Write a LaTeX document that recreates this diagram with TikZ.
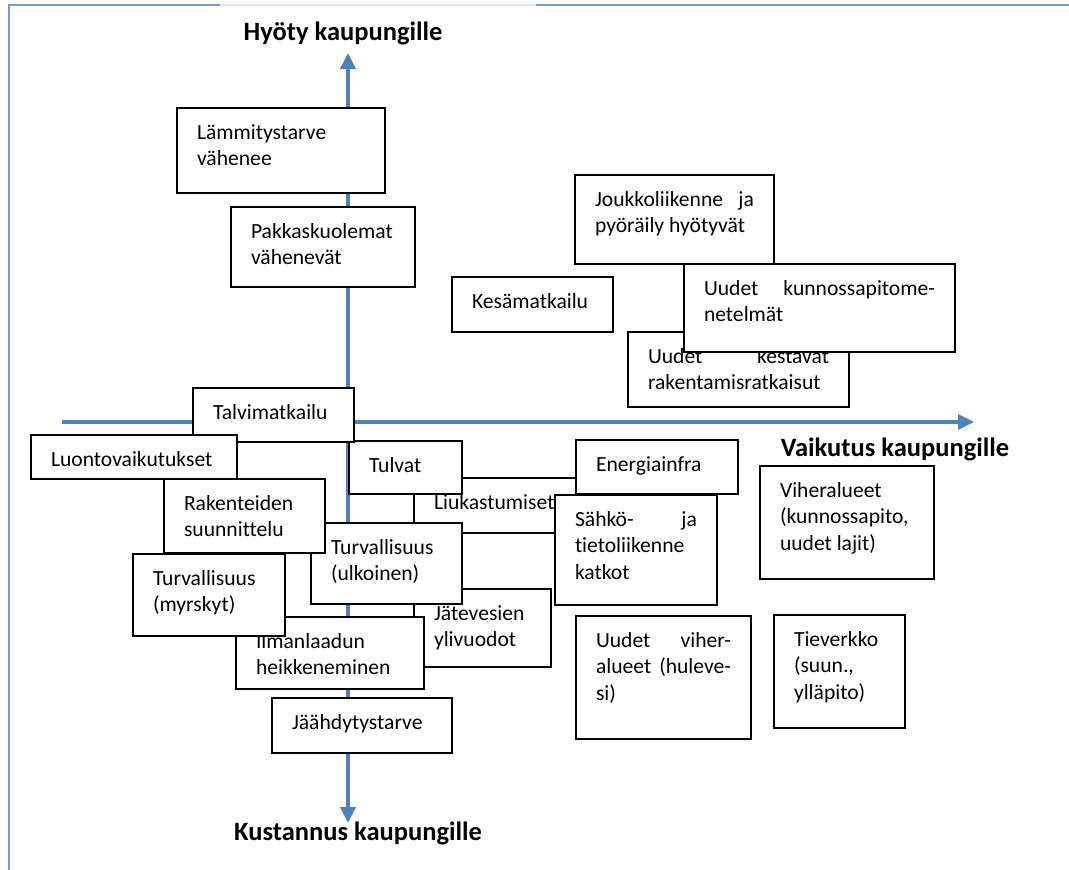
\documentclass[tikz,border=0pt]{standalone}
\usepackage{fontspec}
\setmainfont{Carlito}[Ligatures=NoCommon]
\usetikzlibrary{arrows.meta}
\definecolor{axisblue}{RGB}{79,129,189}
\definecolor{framedark}{RGB}{120,156,210}
\definecolor{framelight}{RGB}{221,231,243}
\newcommand\bodyfont{\fontsize{21.6}{26.5}\selectfont}
\newcommand\mkbox[6]{%
  \node[boxst, anchor=north west] (#1) at (#2,#3)
   {\parbox[t][\dimexpr#5pt-25pt\relax][t]{\dimexpr#4pt-40pt\relax}{\bodyfont\strut #6}};}
\tikzset{
  boxst/.style={draw=black, fill=white, line width=1.6pt, inner xsep=20pt, inner ysep=12.5pt, outer sep=0pt},
  axisst/.style={draw=axisblue, line width=3.5pt},
  tipst/.tip={Triangle[width=15pt,length=16pt]},
  head/.style={font=\fontsize{26.5}{32}\selectfont\bfseries, inner sep=0pt},
  framest/.style={draw=framedark, line width=2pt},
  framelt/.style={draw=framelight, line width=2pt}
}
\begin{document}
\begin{tikzpicture}[x=1pt,y=-1pt]
\useasboundingbox (0,0) rectangle (1069,870);
% frame
\coordinate (f1) at (9,870);
\coordinate (f2) at (9,5);
\coordinate (f3) at (220,5);
\coordinate (f4) at (536,5);
\coordinate (f5) at (1069,5);
\draw[framest] (f1) -- (f2) -- (f3);
\draw[framelt] (f3) -- (f4);
\draw[framest] (f4) -- (f5);
% axes
\coordinate (vtop) at (348,53);
\coordinate (vbot) at (348,823);
\coordinate (hl) at (62,422);
\coordinate (hr) at (974,422);
\draw[axisst, {tipst}-{tipst}, color=axisblue] (vbot) -- (vtop);
\draw[axisst, -{tipst}, color=axisblue] (hl) -- (hr);
% headings
\node[head] (hyoty) at (343,33) {Hyöty kaupungille};
\node[head] (kust) at (358,833) {Kustannus kaupungille};
\node[head] (vaik) at (895,449) {Vaikutus kaupungille};
% upper boxes
\mkbox{lam}{177}{108}{208}{85}{Lämmitystarve\\vähenee}
\mkbox{pak}{231}{207}{184}{80}{Pakkaskuolemat\\vähenevät}
\mkbox{kes}{452}{277}{161}{55}{Kesämatkailu}
\mkbox{jou}{575}{175}{199}{89}{Joukkoliikenne\hfill ja\\pyöräily hyötyvät}
\mkbox{kst}{628}{332}{221}{75}{Uudet\hfill kestävät\\rakentamisratkaisut}
\mkbox{kun}{684}{264}{271}{88}{Uudet\hfill kunnossapitome-\\netelmät}
% lower boxes
\mkbox{liu}{414}{478}{186}{55}{Liukastumiset}
\mkbox{tul}{349}{441}{113}{53}{Tulvat}
\mkbox{tal}{193}{388}{161}{54}{Talvimatkailu}
\mkbox{luo}{31}{435}{206}{44}{Luontovaikutukset}
\mkbox{ene}{576}{440}{162}{54}{Energiainfra}
\mkbox{sah}{555}{495}{162}{110}{Sähkö-\hfill ja\\tietoliikenne\\katkot}
\mkbox{jat}{414}{589}{137}{78}{Jätevesien\\ylivuodot}
\mkbox{tuu}{311}{523}{151}{81}{Turvallisuus\\(ulkoinen)}
\mkbox{rak}{164}{479}{161}{74}{Rakenteiden\\suunnittelu}
\mkbox{ilm}{236}{617}{188}{72}{Ilmanlaadun\\heikkeneminen}
\mkbox{myr}{133}{554}{152}{82}{Turvallisuus\\(myrskyt)}
\mkbox{jaa}{272}{698}{180}{55}{Jäähdytystarve}
\mkbox{vih}{760}{466}{174}{113}{Viheralueet\\(kunnossapito,\\uudet lajit)}
\mkbox{uvi}{576}{616}{175}{123}{Uudet\hfill viher-\\alueet\hfill (huleve-\\si)}
\mkbox{tie}{774}{615}{131}{113}{Tieverkko\\(suun.,\\ylläpito)}
\end{tikzpicture}
\end{document}
